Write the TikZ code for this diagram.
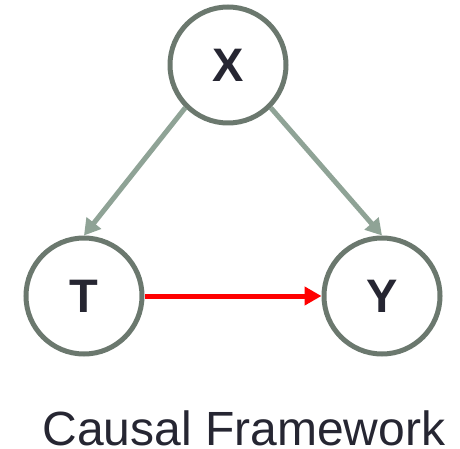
\documentclass[tikz,border=0pt]{standalone}
\usepackage{fontspec}
\setmainfont{Liberation Sans}
\usetikzlibrary{arrows.meta}

\definecolor{bordo}{HTML}{6B786E}
\definecolor{setacinza}{HTML}{8FA396}
\definecolor{texto}{HTML}{262632}

\begin{document}
\begin{tikzpicture}[
    x=1pt, y=-1pt,
    line cap=butt,
    variavel/.style={circle, draw=bordo, line width=5pt, minimum size=116pt,
        inner sep=0pt, text=texto, font=\fontsize{47}{56}\selectfont\bfseries},
    seta/.style={-{Triangle[length=16pt, width=18pt]}, line width=5pt, draw=setacinza},
    causal/.style={-{Triangle[length=17pt, width=18pt]}, line width=5pt, draw=red}
]
\useasboundingbox (0,0) rectangle (460,449);

% As variaveis
\node[variavel] (X) at (228,65) {X};
\node[variavel] (T) at (84,296) {T};
\node[variavel] (Y) at (382,296) {Y};

% Arestas
\draw[seta] (X.south west) -- (T.north);
\draw[seta] (X.south east) -- (Y.north);
\draw[causal] (T) -- (Y);

% Legenda
\node[anchor=base, inner sep=0pt, text=texto, font=\fontsize{48}{58}\selectfont] (legenda) at (244,445) {Causal Framework};

\end{tikzpicture}
\end{document}
